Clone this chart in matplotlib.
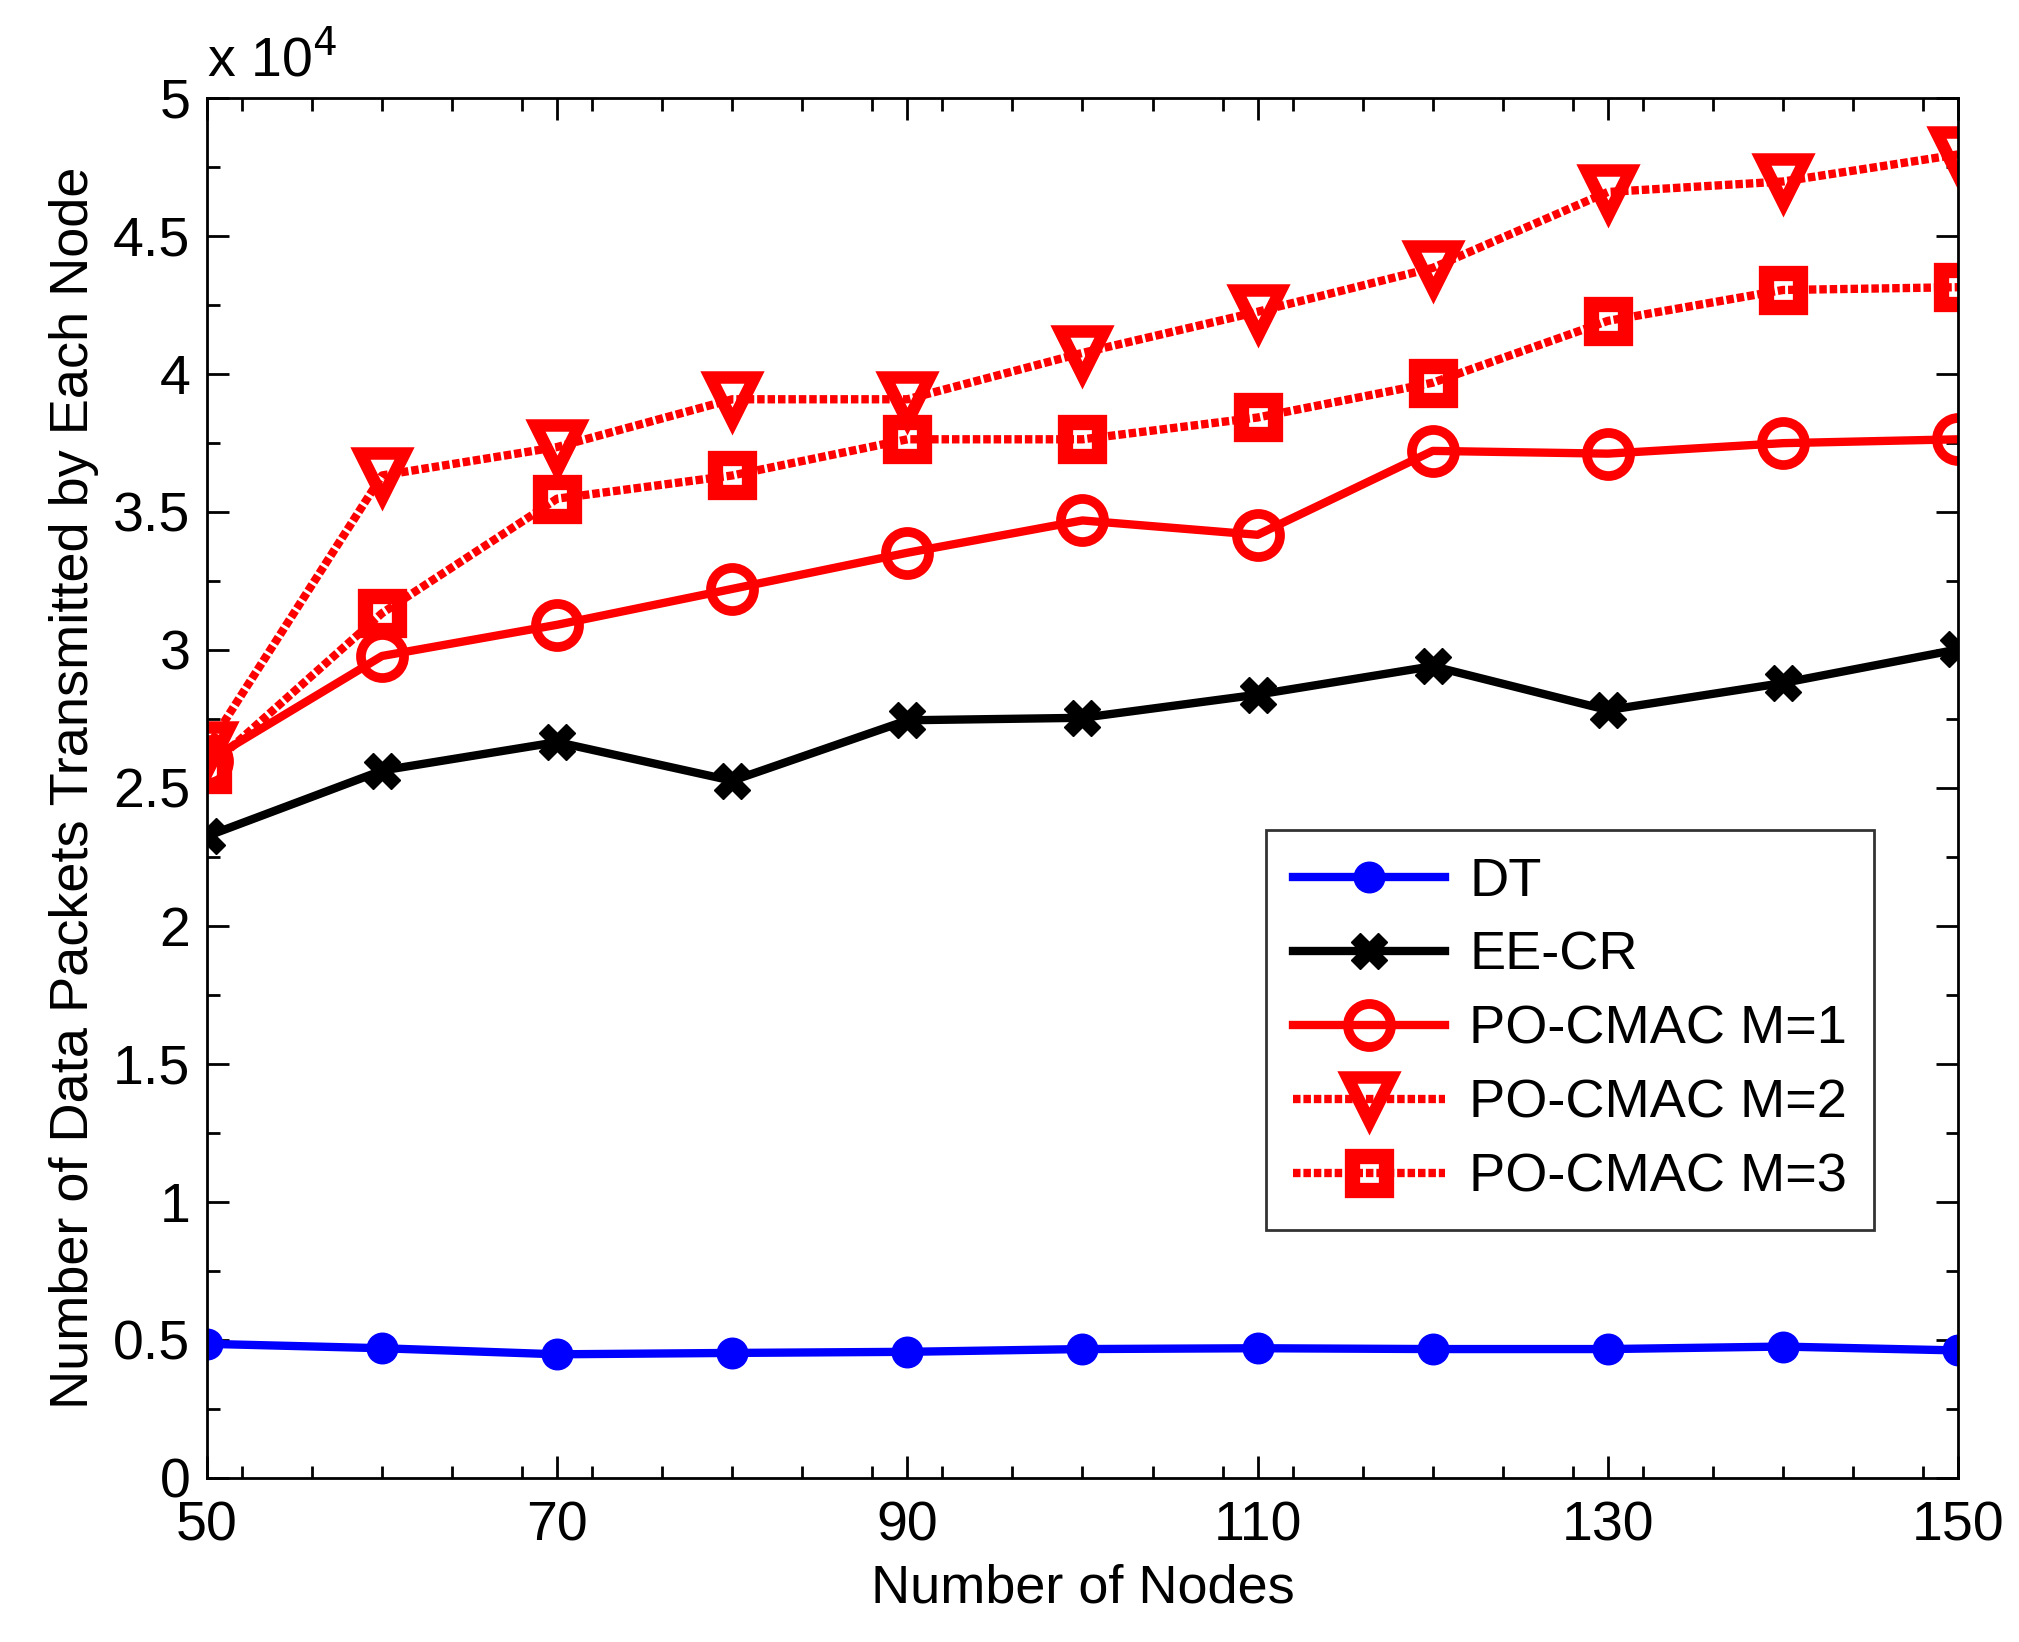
import matplotlib
matplotlib.use("Agg")
import matplotlib.pyplot as plt
from matplotlib.ticker import MultipleLocator, FuncFormatter

plt.rcParams['font.family'] = ['Liberation Sans', 'DejaVu Sans']

# Data (packets per node)
nodes = [50, 60, 70, 80, 90, 100, 110, 120, 130, 140, 150]
dt = [4860, 4700, 4480, 4530, 4570, 4670, 4700, 4670, 4670, 4760, 4620]
ee_cr = [23250, 25630, 26660, 25260, 27450, 27540, 28380, 29410, 27820, 28800, 30020]
po_m1 = [25960, 29780, 30910, 32210, 33520, 34690, 34170, 37210, 37110, 37490, 37630]
po_m2 = [26420, 36320, 37350, 39080, 39080, 40760, 42250, 43840, 46590, 46970, 47950]
po_m3 = [25680, 31330, 35480, 36320, 37630, 37630, 38420, 39680, 41920, 43040, 43140]

labels = ['DT', 'EE-CR', 'PO-CMAC M=1', 'PO-CMAC M=2', 'PO-CMAC M=3']

fig = plt.figure(figsize=(20.19, 16.42), dpi=100)
ax = fig.add_axes([0.1025, 0.0999, 0.8673, 0.8405])

dots = (0, (0.9, 0.35))
lw = 6

ax.plot(nodes, dt, color='blue', lw=lw, marker='o', markersize=22,
        markerfacecolor='blue', markeredgecolor='blue', label=labels[0])
ax.plot(nodes, ee_cr, color='black', lw=lw, marker='X', markersize=26,
        markerfacecolor='black', markeredgecolor='black', label=labels[1])
ax.plot(nodes, po_m1, color='red', lw=lw, marker='o', markersize=31,
        markerfacecolor='none', markeredgecolor='red', markeredgewidth=7,
        label=labels[2])
ax.plot(nodes, po_m2, color='red', lw=lw, linestyle=dots, marker='v',
        markersize=32, markerfacecolor='none', markeredgecolor='red',
        markeredgewidth=9, label=labels[3])
ax.plot(nodes, po_m3, color='red', lw=lw, linestyle=dots, marker='s',
        markersize=24, markerfacecolor='none', markeredgecolor='red',
        markeredgewidth=11, label=labels[4])

ax.set_xlim(50, 150)
ax.set_ylim(0, 50000)
ax.set_xticks([50, 70, 90, 110, 130, 150])
ax.xaxis.set_minor_locator(MultipleLocator(4))
ax.yaxis.set_major_locator(MultipleLocator(5000))
ax.yaxis.set_minor_locator(MultipleLocator(2500))
ax.yaxis.set_major_formatter(FuncFormatter(lambda v, p: '%g' % (v / 1e4)))

ax.tick_params(which='both', direction='in', top=True, right=True,
               labelsize=40, width=2)
ax.tick_params(which='major', length=16)
ax.tick_params(which='minor', length=9)
ax.tick_params(axis='x', pad=16)
ax.tick_params(axis='y', pad=12)
for s in ax.spines.values():
    s.set_linewidth(2)

ax.set_xlabel('Number of Nodes', fontsize=39, labelpad=8)
ax.set_ylabel('Number of Data Packets Transmitted by Each Node', fontsize=39,
              labelpad=10)
fig.text(0.1025, 0.954, r'x 10$^4$', fontsize=40, ha='left', va='baseline')

leg = ax.legend(loc='lower right', bbox_to_anchor=(0.952, 0.18),
                fontsize=39, frameon=True, fancybox=False, handlelength=2.8,
                handletextpad=0.45, labelspacing=0.44, borderpad=0.5,
                borderaxespad=0)
leg.get_frame().set_edgecolor('black')
leg.get_frame().set_linewidth(2)

fig.savefig('out.png', dpi=100)
